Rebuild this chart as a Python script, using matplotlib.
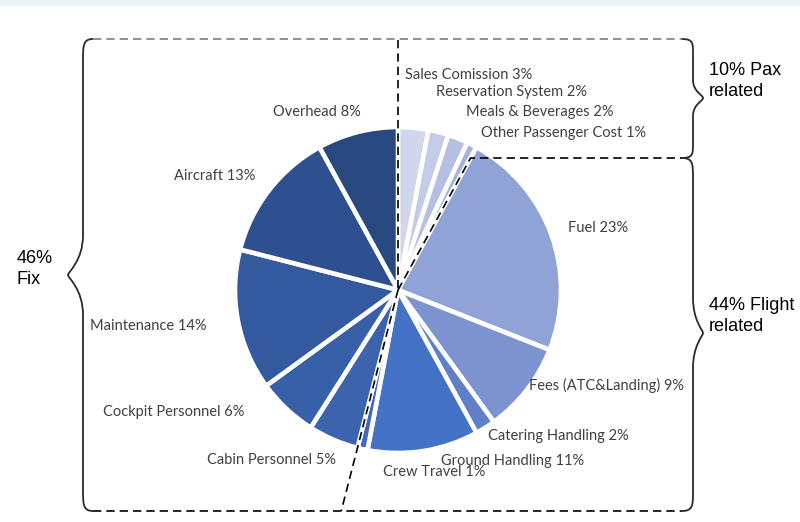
import matplotlib
matplotlib.use("Agg")
import matplotlib.pyplot as plt
from matplotlib.path import Path
from matplotlib.patches import PathPatch, Rectangle
import numpy as np

# ---- data ----
categories = ["Sales Comission", "Reservation System", "Meals & Beverages",
              "Other Passenger Cost", "Fuel", "Fees (ATC&Landing)",
              "Catering Handling", "Ground Handling", "Crew Travel",
              "Cabin Personnel", "Cockpit Personnel", "Maintenance",
              "Aircraft", "Overhead"]
shares = [3, 2, 2, 1, 23, 9, 2, 11, 1, 5, 6, 14, 13, 8]
group_labels = ["46%\nFix", "10% Pax\nrelated", "44% Flight\nrelated"]

# ---- styles ----
colors = ["#d0d6ec", "#c3cbe6", "#b4bfe1", "#a6b4dc", "#8fa3d6", "#7c93cf",
          "#5f80c9", "#4472c4", "#4069b8", "#3c63ad", "#3860a8", "#33599e",
          "#2f5090", "#2a4880"]
# label anchor positions in pixel coords (left x, center y)
label_pos = [(405, 75), (436, 92), (466, 112), (481, 133), (568, 228),
             (529, 385), (488, 436), (441, 461), (383, 472), (207, 460),
             (103, 412), (90, 326), (174, 176), (273, 112)]

W, H = 800, 522
def Y(p):
    return H - p

fig = plt.figure(figsize=(8, 5.22), dpi=100)
ax = fig.add_axes([0, 0, 1, 1])
ax.set_xlim(0, W)
ax.set_ylim(0, H)
ax.set_aspect("equal")
ax.axis("off")

# top band
ax.add_patch(Rectangle((0, Y(6)), W, 6, color="#eaf1fb", lw=0, zorder=0))

cx, cy, R = 398, 290, 163
wedges, _ = ax.pie(shares, colors=colors, startangle=90, counterclock=False,
                   center=(cx, Y(cy)), radius=R, frame=True,
                   wedgeprops=dict(edgecolor="white", linewidth=3.3))
ax.set_xlim(0, W)
ax.set_ylim(0, H)
ax.axis("off")

lab_font = dict(family=["Lato", "DejaVu Sans"], fontsize=10.5, color="#404040")
for name, v, (lx, ly) in zip(categories, shares, label_pos):
    ax.text(lx, Y(ly), f"{name} {v}%", ha="left", va="center", **lab_font)

# dashed group boundaries
cum = np.cumsum(shares)
def boundary_dir(pct):
    ang = np.deg2rad(90 - 360 * pct / 100)
    return np.cos(ang), np.sin(ang)

dash = dict(color="black", lw=1.2, ls=(0, (5, 3)), zorder=5)
# top vertical (start, 0%)
ax.plot([cx, cx], [Y(40), Y(cy)], **dash)
# pax/flight boundary at 10%
dx, dy = boundary_dir(cum[3])
t = (Y(158) - Y(cy)) / dy
ax.plot([cx, cx + dx * t, 682], [Y(cy), Y(158), Y(158)], **dash)
# flight/fix boundary after Crew Travel
dx, dy = boundary_dir(cum[8])
t = (Y(511) - Y(cy)) / dy
ax.plot([cx, cx + dx * t], [Y(cy), Y(511)], **dash)
# top and bottom horizontals
ax.plot([93, 682], [Y(39), Y(39)], color="#7f7f7f", lw=1.2, ls=(0, (5, 3)))
ax.plot([93, 682], [Y(511), Y(511)], **dash)

def brace(x_edge, x_line, x_tip, y0, y1, ytip, rc=20, rt=30):
    # in pixel coords; returns PathPatch
    pts = [
        (x_edge, y0),
        (x_line, y0), (x_line, y0 + rc * 0.3), (x_line, y0 + rc),
        (x_line, ytip - rt),
        (x_line, ytip - rt * 0.35), (x_tip, ytip - 3), (x_tip, ytip),
        (x_tip, ytip + 3), (x_line, ytip + rt * 0.35), (x_line, ytip + rt),
        (x_line, y1 - rc),
        (x_line, y1 - rc * 0.3), (x_line, y1), (x_edge, y1),
    ]
    codes = [Path.MOVETO,
             Path.CURVE4, Path.CURVE4, Path.CURVE4,
             Path.LINETO,
             Path.CURVE4, Path.CURVE4, Path.CURVE4,
             Path.CURVE4, Path.CURVE4, Path.CURVE4,
             Path.LINETO,
             Path.CURVE4, Path.CURVE4, Path.CURVE4]
    verts = [(x, Y(y)) for x, y in pts]
    return PathPatch(Path(verts, codes), fill=False, lw=1.3,
                     edgecolor="#2b2b2b", zorder=5)

ax.add_patch(brace(93, 83, 68, 39, 511, 275, rc=22, rt=40))
ax.add_patch(brace(682, 693, 703, 39, 158, 98, rc=14, rt=18))
ax.add_patch(brace(682, 693, 703, 158, 511, 333, rc=20, rt=35))

grp_font = dict(family=["Liberation Sans", "DejaVu Sans"], fontsize=13,
                color="black", ha="left", va="center", linespacing=1.3)
ax.text(17, Y(269), group_labels[0], **grp_font)
ax.text(709, Y(81), group_labels[1], **grp_font)
ax.text(709, Y(316), group_labels[2], **grp_font)

fig.savefig("out.png", dpi=100)
